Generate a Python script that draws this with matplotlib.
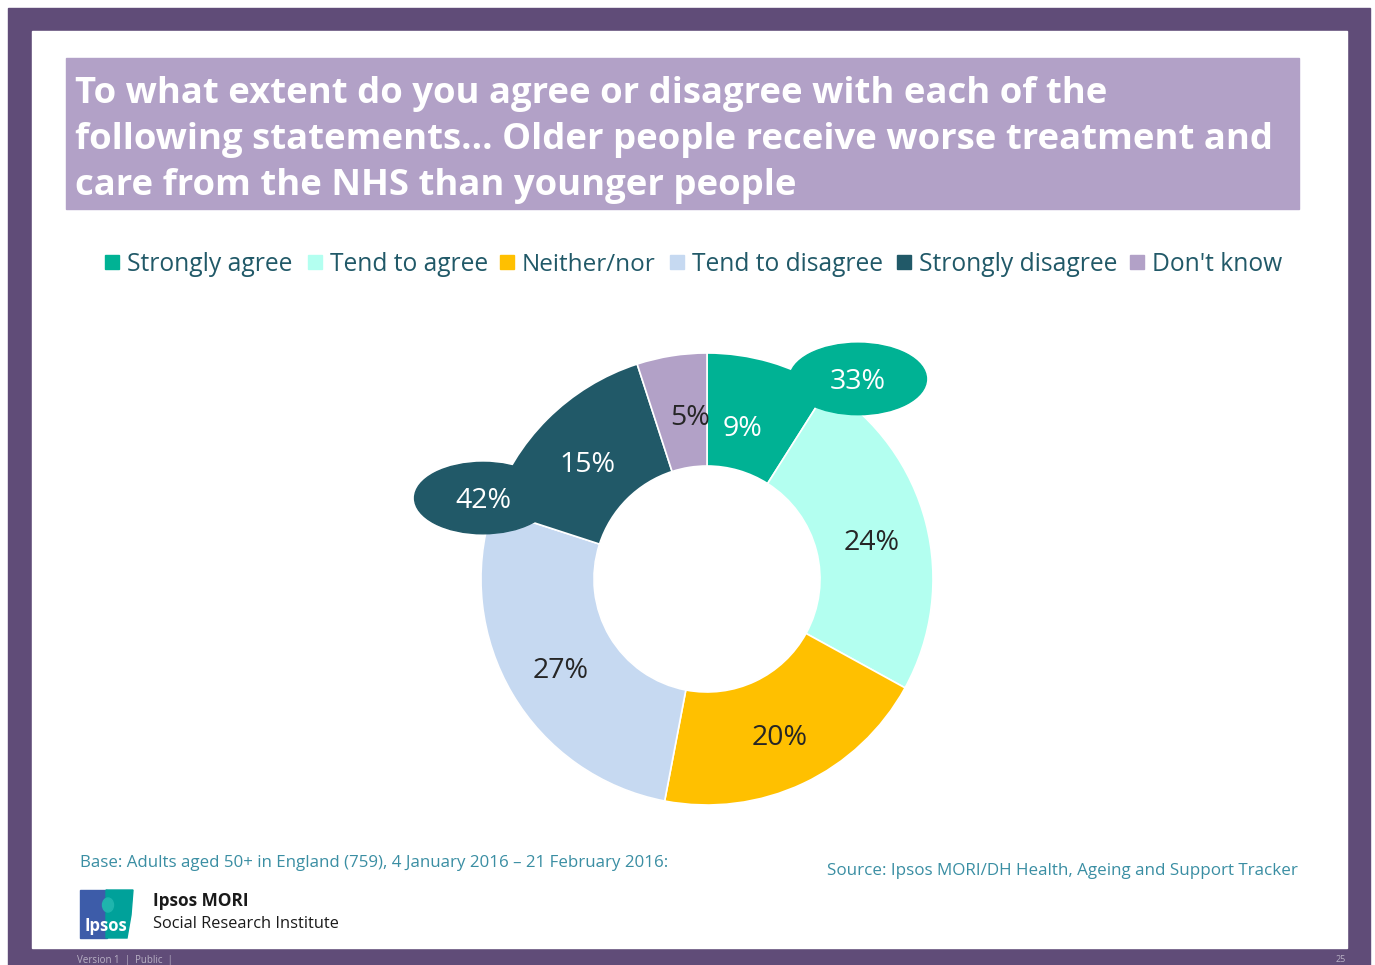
import matplotlib
matplotlib.use("Agg")
import matplotlib.pyplot as plt
from matplotlib.patches import Rectangle, Ellipse, Polygon

plt.rcParams['font.family'] = ['Open Sans', 'DejaVu Sans']

# survey responses (%)
categories = ["Strongly agree", "Tend to agree", "Neither/nor",
              "Tend to disagree", "Strongly disagree", "Don't know"]
values = [9, 24, 20, 27, 15, 5]
colors = ["#00b294", "#b3fff0", "#ffc000", "#c6d9f1", "#215968", "#b2a1c7"]
label_colors = ["white", "#262626", "#262626", "#262626", "white", "#262626"]

agree_total = values[0] + values[1]
disagree_total = values[3] + values[4]

title_lines = [
    "To what extent do you agree or disagree with each of the",
    "following statements... Older people receive worse treatment and",
    "care from the NHS than younger people",
]
base_note = "Base: Adults aged 50+ in England (759), 4 January 2016 \u2013 21 February 2016:"
source_note = "Source: Ipsos MORI/DH Health, Ageing and Support Tracker"

W, H = 1375, 965
fig = plt.figure(figsize=(W / 100, H / 100), dpi=100)
renderer = fig.canvas.get_renderer()

# page background in pixel coordinates
bg = fig.add_axes([0, 0, 1, 1])
bg.set_xlim(0, W)
bg.set_ylim(H, 0)
bg.axis('off')

purple = "#604c78"
bg.add_patch(Rectangle((8, 8), 1362, 957, color=purple, zorder=0))
bg.add_patch(Rectangle((32, 31), 1315, 917, color="white", zorder=1))
bg.add_patch(Rectangle((66, 58), 1233, 151, color="#b2a1c7", zorder=2))


def fit_width(txt, target):
    # scale a text so its rendered width matches target pixels
    w = txt.get_window_extent(renderer).width
    txt.set_fontsize(txt.get_fontsize() * target / w)
    return txt


title_y = [103, 149, 195]
title_texts = [bg.text(75, y, line, color="white", fontsize=25, fontweight="bold",
                       ha="left", va="baseline", zorder=3)
               for line, y in zip(title_lines, title_y)]
fit_width(title_texts[1], 1197)
for t in title_texts:
    t.set_fontsize(title_texts[1].get_fontsize())

# legend row
legend_x = [105, 308, 500, 670, 897, 1130]
legend_w = [165, 158, 133, 191, 198, 130]
for x, w, name, c in zip(legend_x, legend_w, categories, colors):
    bg.add_patch(Rectangle((x, 255), 14, 14, color=c, zorder=3))
    t = bg.text(x + 22, 271, name, color="#215968", fontsize=18,
                ha="left", va="baseline", zorder=3)
    fit_width(t, w)

# footer notes
fit_width(bg.text(80, 863, base_note, color="#3a8ea3", fontsize=12.5, ha="left",
                  va="center", zorder=3), 590)
fit_width(bg.text(1298, 871, source_note, color="#3a8ea3", fontsize=12.5, ha="right",
                  va="center", zorder=3), 470)
fit_width(bg.text(153, 901, "Ipsos MORI", color="#1a1a1a", fontsize=13.5,
                  fontweight="bold", ha="left", va="center", zorder=3), 96)
fit_width(bg.text(153, 924, "Social Research Institute", color="#1a1a1a",
                  fontsize=13.5, ha="left", va="center", zorder=3), 186)
fit_width(bg.text(77, 960, "Version 1  |  Public  |", color="#b8b0c4", fontsize=6.5,
                  ha="left", va="center", zorder=3), 95)
bg.text(1346, 960, "25", color="#b8b0c4", fontsize=6.5, ha="right",
        va="center", zorder=3)

# logo
bg.add_patch(Rectangle((80, 890), 27, 48, color="#3d5ca9", zorder=3))
bg.add_patch(Polygon([(106, 890), (133, 890), (131, 915), (127, 938), (106, 938)],
                     closed=True, color="#00a19a", zorder=3))
bg.add_patch(Ellipse((108, 905), 11, 14, color="#1fb5ad", zorder=4))
fit_width(bg.text(105.5, 926, "Ipsos", color="white", fontsize=11, fontweight="bold",
                  ha="center", va="center", zorder=5), 43)

# donut
cx, cy, r = 707, 579, 226
span = 3 * r
ax = fig.add_axes([(cx - span / 2) / W, (H - cy - span / 2) / H, span / W, span / H])
ax.set_facecolor("none")
wedges, _, autotexts = ax.pie(
    values, colors=colors, startangle=90, counterclock=False,
    autopct=lambda p: f"{p:.0f}%", pctdistance=0.75,
    wedgeprops=dict(width=0.5, edgecolor="white", linewidth=1.2),
    textprops=dict(fontsize=20.5))
# the two thin top slices get their labels nudged apart
autotexts[0].set_position((0.155, 0.690))
autotexts[5].set_position((-0.075, 0.739))
for t, c in zip(autotexts, label_colors):
    t.set_color(c)
    x, y = t.get_position()
    t.set_position((x, y - 0.026))
ax.set_xlim(-1.5, 1.5)
ax.set_ylim(-1.5, 1.5)
ax.set_aspect("equal")
ax.axis('off')

# net agree / disagree bubbles
for (ex, ey), total, c in [((0.668, 0.885), agree_total, colors[0]),
                           ((-0.991, 0.358), disagree_total, colors[4])]:
    ax.add_patch(Ellipse((ex, ey), 0.606, 0.316, color=c, zorder=5))
    ax.text(ex, ey - 0.013, f"{total}%", color="white", fontsize=20.5,
            ha="center", va="center", zorder=6)

fig.savefig("out.png", dpi=100)
